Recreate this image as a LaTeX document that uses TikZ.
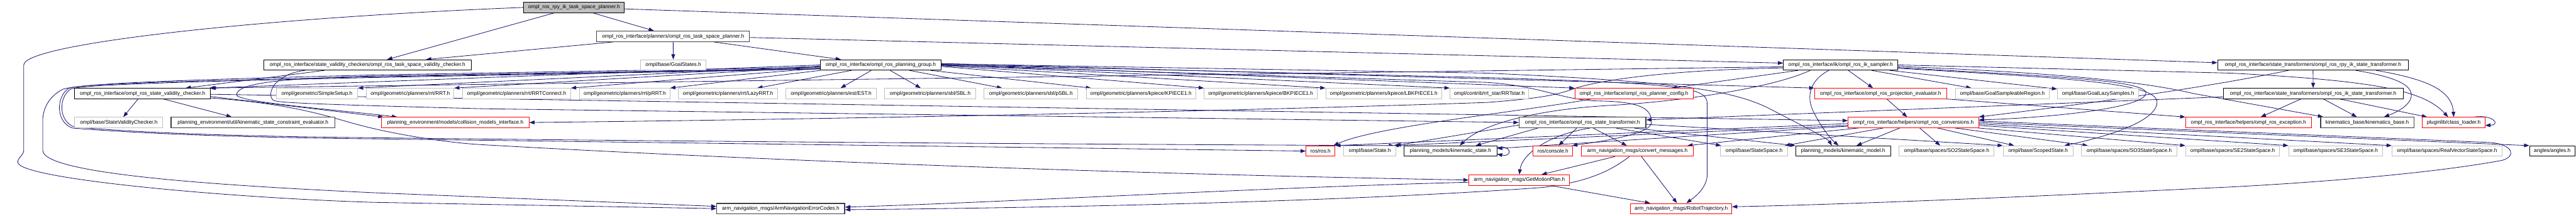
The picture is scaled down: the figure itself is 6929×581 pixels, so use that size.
\documentclass[tikz,border=0pt]{standalone}
\usepackage{fontspec}
\setmainfont{Liberation Sans}
\usetikzlibrary{arrows.meta,backgrounds}
\definecolor{edgec}{HTML}{191970}
\definecolor{extgray}{HTML}{BFBFBF}
\definecolor{darkb}{HTML}{404040}
\definecolor{rootfill}{HTML}{BFBFBF}
\definecolor{trunc}{HTML}{FF0000}
\begin{document}
\begin{tikzpicture}[x=1pt,y=-1pt,
  gn/.style={draw=black, line width=1.5pt, fill=white, minimum height=28pt, inner xsep=2pt, inner ysep=0pt, font=\fontsize{14}{16}\selectfont},
  gx/.style={gn, draw=extgray},
  gr/.style={gn, draw=trunc},
  gd/.style={gn, draw=darkb, line width=2.2pt},
  groot/.style={gn, fill=rootfill},
  ed/.style={draw=edgec, line width=1.4pt, -{Triangle[length=14pt,width=10pt]}}]
\useasboundingbox (0,0) rectangle (6929,581);
% row 0
\node[groot, minimum width=270pt] (root) at (1544,20) {ompl\_ros\_rpy\_ik\_task\_space\_planner.h};
% row 1
\node[gd, minimum width=411pt] (tsp) at (1810.5,98) {ompl\_ros\_interface/planners/ompl\_ros\_task\_space\_planner.h};
% row 2
\node[gn, minimum width=557pt] (tsvc) at (988.5,175) {ompl\_ros\_interface/state\_validity\_checkers/ompl\_ros\_task\_space\_validity\_checker.h};
\node[gx, minimum width=176pt] (goalstates) at (1811,175) {ompl/base/GoalStates.h};
\node[gn, minimum width=324pt] (pg) at (2369,175) {ompl\_ros\_interface/ompl\_ros\_planning\_group.h};
\node[gn, minimum width=308pt] (iks) at (4951,175) {ompl\_ros\_interface/ik/ompl\_ros\_ik\_sampler.h};
\node[gn, minimum width=513pt] (rpyst) at (6221.5,175) {ompl\_ros\_interface/state\_transformers/ompl\_ros\_rpy\_ik\_state\_transformer.h};
% row 3
\node[gn, minimum width=365pt] (svc) at (383.5,252) {ompl\_ros\_interface/ompl\_ros\_state\_validity\_checker.h};
\node[gx, minimum width=219pt] (simplesetup) at (852.5,252) {ompl/geometric/SimpleSetup.h};
\node[gx, minimum width=235pt] (rrt) at (1103.5,252) {ompl/geometric/planners/rrt/RRT.h};
\node[gx, minimum width=291pt] (rrtc) at (1389.5,252) {ompl/geometric/planners/rrt/RRTConnect.h};
\node[gx, minimum width=243pt] (prrt) at (1680.5,252) {ompl/geometric/planners/rrt/pRRT.h};
\node[gx, minimum width=266pt] (lazyrrt) at (1958,252) {ompl/geometric/planners/rrt/LazyRRT.h};
\node[gx, minimum width=243pt] (est) at (2235.5,252) {ompl/geometric/planners/est/EST.h};
\node[gx, minimum width=244pt] (sbl) at (2502,252) {ompl/geometric/planners/sbl/SBL.h};
\node[gx, minimum width=252pt] (psbl) at (2773,252) {ompl/geometric/planners/sbl/pSBL.h};
\node[gx, minimum width=294pt] (kpiece) at (3069,252) {ompl/geometric/planners/kpiece/KPIECE1.h};
\node[gx, minimum width=304pt] (bkpiece) at (3391,252) {ompl/geometric/planners/kpiece/BKPIECE1.h};
\node[gx, minimum width=312pt] (lbkpiece) at (3722,252) {ompl/geometric/planners/kpiece/LBKPIECE1.h};
\node[gx, minimum width=212pt] (rrtstar) at (4006,252) {ompl/contrib/rrt\_star/RRTstar.h};
\node[gr, minimum width=318pt] (pconf) at (4395,252) {ompl\_ros\_interface/ompl\_ros\_planner\_config.h};
\node[gr, minimum width=355pt] (proj) at (5058.5,252) {ompl\_ros\_interface/ompl\_ros\_projection\_evaluator.h};
\node[gx, minimum width=252pt] (gsr) at (5386,252) {ompl/base/GoalSampleableRegion.h};
\node[gx, minimum width=219pt] (gls) at (5643.5,252) {ompl/base/GoalLazySamples.h};
\node[gn, minimum width=484pt] (ikst) at (6222,252) {ompl\_ros\_interface/state\_transformers/ompl\_ros\_ik\_state\_transformer.h};
% row 4
\node[gx, minimum width=237pt] (svchk) at (319.5,330) {ompl/base/StateValidityChecker.h};
\node[gd, minimum width=441pt] (kstce) at (680.5,330) {planning\_environment/util/kinematic\_state\_constraint\_evaluator.h};
\node[gr, minimum width=397pt] (cmi) at (1224.5,330) {planning\_environment/models/collision\_models\_interface.h};
\node[gd, minimum width=341pt] (st) at (4256.5,330) {ompl\_ros\_interface/ompl\_ros\_state\_transformer.h};
\node[gr, minimum width=351pt] (conv) at (5146.5,330) {ompl\_ros\_interface/helpers/ompl\_ros\_conversions.h};
\node[gr, minimum width=338pt] (exc) at (6048,330) {ompl\_ros\_interface/helpers/ompl\_ros\_exception.h};
\node[gd, minimum width=251pt] (kb) at (6367.5,330) {kinematics\_base/kinematics\_base.h};
\node[gr, minimum width=168pt] (cl) at (6600,330) {pluginlib/class\_loader.h};
% row 5
\node[gr, minimum width=78pt] (ros) at (3552,407) {ros/ros.h};
\node[gx, minimum width=141pt] (state) at (3684.5,407) {ompl/base/State.h};
\node[gn, minimum width=249pt] (kstate) at (3901.5,407) {planning\_models/kinematic\_state.h};
\node[gr, minimum width=106pt] (console) at (4177,407) {ros/console.h};
\node[gr, minimum width=300pt] (convmsg) at (4404,407) {arm\_navigation\_msgs/convert\_messages.h};
\node[gx, minimum width=180pt] (ss) at (4718,407) {ompl/base/StateSpace.h};
\node[gn, minimum width=255pt] (kmodel) at (4957.5,407) {planning\_models/kinematic\_model.h};
\node[gx, minimum width=256pt] (so2) at (5236,407) {ompl/base/spaces/SO2StateSpace.h};
\node[gx, minimum width=188pt] (scoped) at (5482,407) {ompl/base/ScopedState.h};
\node[gx, minimum width=256pt] (so3) at (5727,407) {ompl/base/spaces/SO3StateSpace.h};
\node[gx, minimum width=253pt] (se2) at (6005.5,407) {ompl/base/spaces/SE2StateSpace.h};
\node[gx, minimum width=253pt] (se3) at (6282.5,407) {ompl/base/spaces/SE3StateSpace.h};
\node[gx, minimum width=296pt] (rv) at (6582,407) {ompl/base/spaces/RealVectorStateSpace.h};
\node[gn, minimum width=122pt] (angles) at (6865,407) {angles/angles.h};
% row 6
\node[gr, minimum width=271pt] (gmp) at (4086.5,485) {arm\_navigation\_msgs/GetMotionPlan.h};
% row 7
\node[gd, minimum width=344pt] (anec) at (2100,562) {arm\_navigation\_msgs/ArmNavigationErrorCodes.h};
\node[gr, minimum width=272pt] (rt) at (4522,562) {arm\_navigation\_msgs/RobotTrajectory.h};

\begin{scope}[on background layer]
% root
\draw[ed] (root) -- (tsvc);
\draw[ed] (root) -- (tsp);
\draw[ed] ([yshift=-4pt]root.east) -- ([yshift=6pt]rpyst.west);
\draw[ed] (root.west) .. controls (700,48) and (64,118) .. (64,175) -- (64,405) .. controls (64,418) and (46,426) .. (48,438) .. controls (56,482) and (600,532) .. (1000,545) -- (anec.west);
% tsp
\draw[ed] (tsp) -- (tsvc);
\draw[ed] (tsp) -- (goalstates);
\draw[ed] (tsp) -- (pg);
\draw[ed] ([yshift=-3pt]tsp.east) -- ([yshift=5pt]iks.west);
% tsvc
\draw[ed] (tsvc) -- (svc);
\draw[ed] ([xshift=-168pt]tsvc.south) .. controls (735,200) and (716,255) .. (735,270) .. controls (745,276) and (800,280) .. (1300,293) -- (st.west);
% svc
\draw[ed] (svc) -- (svchk);
\draw[ed] (svc) -- (kstce);
\draw[ed] ([yshift=-8pt]svc.east) -- ([xshift=6pt]cmi.north west);
\draw[ed] ([yshift=-2pt]svc.east) -- ([yshift=5pt]conv.west);
\draw[ed] ([yshift=-12pt]svc.east) .. controls (800,280) and (900,320) .. (960,335) .. controls (1050,360) and (1200,385) .. (1300,390) .. controls (2000,430) and (3000,468) .. (gmp.west);
% pg
\draw[ed] (pg.west) -- ([xshift=-4pt]svc.north east);
\draw[ed] ([yshift=-3pt]pg.west) -- (simplesetup.north east);
\draw[ed] ([yshift=-5pt]pg.west) -- (rrt.north east);
\draw[ed] ([yshift=-9pt]pg.west) -- (rrtc.north east);
\draw[ed] (pg.south west) -- (prrt.north east);
\draw[ed] (pg) -- (lazyrrt);
\draw[ed] (pg) -- (est);
\draw[ed] (pg) -- (sbl);
\draw[ed] (pg) -- (psbl);
\draw[ed] (pg) -- (kpiece);
\draw[ed] ([yshift=-4pt]pg.east) -- (bkpiece.north west);
\draw[ed] ([yshift=-2pt]pg.east) -- (lbkpiece.north west);
\draw[ed] (pg.east) -- (rrtstar.north west);
\draw[ed] ([yshift=2pt]pg.east) -- (pconf.north west);
\draw[ed] ([yshift=4pt]pg.east) -- (proj.north west);
\draw[ed] ([yshift=1pt]pg.east) -- (4000,209) .. controls (4540,226) and (4592,236) .. (4592,280) -- (4592,470) .. controls (4592,505) and (4560,530) .. ([xshift=14pt]rt.north);
\draw[ed] ([yshift=-1pt]pg.east) -- (4000,222) .. controls (4150,232) and (4200,270) .. (4300,272) .. controls (4420,274) and (4442,295) .. (4442,330) .. controls (4442,362) and (4300,382) .. ([xshift=-2pt]console.north east);
\draw[ed] ([yshift=3pt]pg.east) -- (4000,197) .. controls (4500,220) and (4660,240) .. (4766,296) .. controls (4850,340) and (4915,372) .. ([xshift=-30pt]kmodel.north);
\draw[ed] ([yshift=-6pt]pg.west) -- (1000,202) .. controls (500,215) and (230,224) .. (170,240) .. controls (130,260) and (115,295) .. (115,325) -- (115,405) .. controls (115,470) and (600,500) .. (1000,519) -- ([yshift=6pt]anec.west);
\draw[ed] ([yshift=-10pt]pg.west) -- (1000,207) .. controls (500,218) and (215,226) .. (185,238) .. controls (150,260) and (150,330) .. (195,345) .. controls (400,362) and (700,371) .. (1000,374) -- (ros.west);
\draw[ed] ([yshift=-11pt]pg.west) -- (1000,209) .. controls (500,220) and (220,228) .. (190,240) .. controls (157,262) and (157,327) .. (200,342) .. controls (400,360) and (700,368) .. (1000,371) .. controls (2000,383) and (3000,389) .. ([xshift=-6pt]state.north east);
\draw[ed] ([yshift=-9pt]pg.west) -- (1000,205) .. controls (720,212) and (640,228) .. (636,255) .. controls (634,275) and (900,295) .. ([xshift=43pt]cmi.north west);
% iks
\draw[ed] ([yshift=-5pt]iks.west) -- (svc.north east);
\draw[ed] ([xshift=40pt]iks.south west) -- ([xshift=-58pt]pconf.north east);
\draw[ed] (iks) -- (proj);
\draw[ed] (iks) -- (gsr);
\draw[ed] (iks) -- (gls);
\draw[ed] ([xshift=-32pt]iks.south) .. controls (4870,215) and (4855,260) .. (4880,305) .. controls (4900,345) and (4925,375) .. ([xshift=-12pt]kmodel.north);
\draw[ed] ([yshift=-7pt]iks.east) .. controls (5500,205) and (5770,215) .. (5772,250) .. controls (5775,292) and (5500,318) .. ([yshift=7pt]conv.east);
\draw[ed] ([yshift=-9pt]iks.east) .. controls (5550,210) and (5802,222) .. (5802,275) .. controls (5802,330) and (5650,372) .. ([xshift=-24pt]scoped.north east);
\draw[ed] (iks.east) -- (6000,197) .. controls (6400,218) and (6520,245) .. ([xshift=-15pt]cl.north);
\draw[ed] ([yshift=-4pt]iks.east) .. controls (5600,198) and (5800,228) .. (5900,252) -- ([xshift=8pt]kb.north west);
\draw[ed] ([yshift=-8pt]iks.west) .. controls (4500,188) and (4300,215) .. (4231,240) .. controls (4180,258) and (4130,266) .. (4000,276) .. controls (3300,300) and (2200,322) .. (cmi.east);
\draw[ed] ([xshift=-82pt]iks.south) .. controls (4760,240) and (4500,275) .. (4330,284) .. controls (4150,294) and (3990,330) .. ([xshift=25pt]kstate.north);
% pconf
\draw[ed] ([xshift=45pt]pconf.south west) .. controls (4100,300) and (3700,340) .. ([xshift=-5pt]ros.north east);
% rpyst
\draw[ed] (rpyst) -- (ikst);
\draw[ed] ([xshift=115pt]rpyst.south) .. controls (6430,205) and (6486,225) .. (6486,256) .. controls (6486,285) and (6440,305) .. ([xshift=45pt]kb.north);
\draw[ed] ([xshift=170pt]rpyst.south) .. controls (6520,212) and (6595,240) .. (cl.north);
\draw[ed] ([xshift=-66pt]rpyst.south) .. controls (6000,222) and (5760,262) .. ([yshift=15pt]conv.east);
% ikst
\draw[ed] (ikst) -- (exc);
\draw[ed] (ikst) -- (kb);
\draw[ed] (ikst) -- (cl);
\draw[ed] ([yshift=-9pt]ikst.west) -- ([yshift=7pt]st.east);
% proj
\draw[ed] (proj) -- (conv);
\draw[ed] (proj.south east) -- (exc.north west);
% conv
\draw[ed] (conv) -- (kmodel);
\draw[ed] (conv) -- (so2);
\draw[ed] (conv) -- (scoped);
\draw[ed] (conv) -- (so3);
\draw[ed] (conv) -- (se2.north west);
\draw[ed] ([yshift=-8pt]conv.east) -- (se3.north west);
\draw[ed] ([yshift=-4pt]conv.east) -- (rv.north west);
\draw[ed] (conv.east) -- (angles.north west);
\draw[ed] ([yshift=4pt]conv.east) -- (6700,384) .. controls (6762,390) and (6768,422) .. (6730,432) .. controls (6500,475) and (6100,500) .. (5929,507) .. controls (5500,528) and (5000,550) .. ([yshift=5pt]rt.east);
\draw[ed] ([yshift=-8pt]conv.west) -- ([xshift=-8pt]state.north east);
\draw[ed] ([yshift=-10pt]conv.west) -- ([yshift=7pt]kstate.east);
\draw[ed] ([yshift=-3pt]conv.west) -- (ros.north east);
\draw[ed] ([xshift=30pt]conv.south west) -- ([xshift=-16pt]convmsg.north east);
\draw[ed] ([xshift=-80pt]conv.south) -- ([xshift=-8pt]ss.north east);
% convmsg, gmp
\draw[ed] (convmsg) -- (gmp);
\draw[ed] (convmsg) -- (rt);
\draw[ed] ([xshift=-21pt]convmsg.south) .. controls (4330,462) and (4270,490) .. (4150,505) .. controls (3600,545) and (2800,560) .. ([yshift=-3pt]anec.east);
\draw[ed] (gmp) -- (rt);
\draw[ed] ([yshift=-6pt]gmp.west) .. controls (3400,505) and (2700,545) .. ([yshift=4pt]anec.east);
% st
\draw[ed] ([xshift=20pt]st.south) .. controls (4170,362) and (4095,412) .. (gmp.north);
\draw[ed] (st) -- (console);
\draw[ed] (st) -- (convmsg);
\draw[ed] (st) -- (ss);
\draw[ed] (st) -- (kmodel.north west);
\draw[ed] ([yshift=-7pt]st.west) -- ([xshift=-2pt]state.north east);
\draw[ed] ([xshift=-120pt]st.south) -- ([xshift=68pt]kstate.north);
\draw[ed] ([yshift=-5pt]st.east) -- (scoped.north west);
% self loops
\draw[ed] ([yshift=10pt]kstate.east) .. controls (4068,390) and (4068,424) .. ([yshift=-8pt]kstate.east);
\draw[ed] ([xshift=-30pt]cl.north east) .. controls (6705,308) and (6728,336) .. ([yshift=-8pt]cl.east);
\end{scope}
\end{tikzpicture}
\end{document}
